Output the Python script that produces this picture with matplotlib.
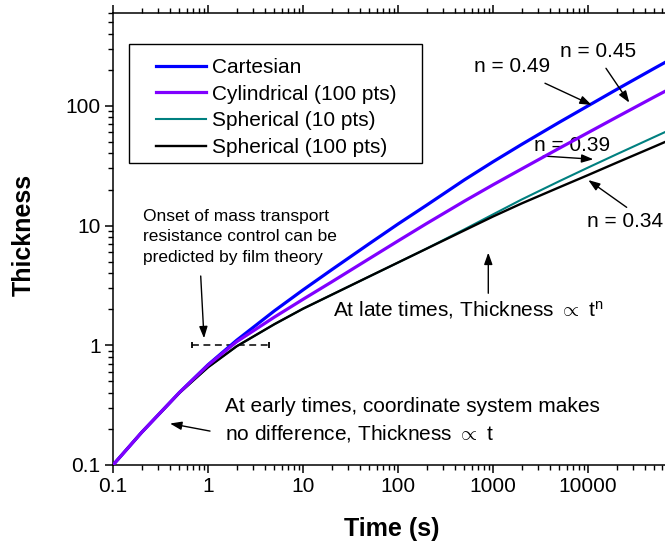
import matplotlib
matplotlib.use("Agg")
import matplotlib.pyplot as plt
from matplotlib import ticker
from matplotlib.patches import Rectangle

plt.rcParams['font.family'] = ['Liberation Sans', 'DejaVu Sans']
plt.rcParams['mathtext.fontset'] = 'custom'
plt.rcParams['mathtext.rm'] = 'Liberation Sans'
plt.rcParams['mathtext.it'] = 'Liberation Sans:italic'
plt.rcParams['mathtext.bf'] = 'Liberation Sans:bold'

# time (s) and thickness
time = [0.1, 0.2, 0.5, 1, 2, 5, 10, 20, 50, 100, 200, 500, 1000, 2000,
        5000, 10000, 20000, 50000, 65000]
cartesian = [0.1, 0.187, 0.403, 0.687, 1.10, 1.94, 2.90, 4.27, 7.07, 10.3,
             14.8, 24.1, 34.1, 47.6, 73, 100, 137, 206, 231]
cylindrical = [0.1, 0.187, 0.403, 0.682, 1.07, 1.72, 2.42, 3.38, 5.30, 7.44,
               10.4, 16.0, 21.9, 29.7, 44.3, 59.7, 80.4, 118.8, 132.5]
spherical10 = [0.1, 0.187, 0.40, 0.655, 0.98, 1.50, 2.02, 2.64, 3.76, 4.91,
               6.43, 9.3, 12.4, 16.5, 23.5, 30.5, 39.4, 55.0, 60.5]
spherical100 = [0.1, 0.187, 0.40, 0.655, 0.98, 1.50, 2.02, 2.64, 3.76, 4.91,
                6.41, 9.12, 11.9, 15.3, 20.9, 26.4, 33.5, 45.7, 50.0]

# film theory onset marker
onset_t = [0.68, 4.4]
onset_h = [1, 1]

xticks = [0.1, 1, 10, 100, 1000, 10000]
yticks = [0.1, 1, 10, 100]

fig = plt.figure(figsize=(6.65, 5.45), dpi=100)
ax = fig.add_axes([113/665, 80/545, 570/665, 452.3/545])

l1, = ax.plot(time, cartesian, color='#0000ff', lw=2.3, label='Cartesian', zorder=3)
l3, = ax.plot(time, spherical10, color='#008080', lw=1.5, label='Spherical (10 pts)', zorder=4)
l4, = ax.plot(time, spherical100, color='k', lw=1.7, label='Spherical (100 pts)', zorder=5)
l2, = ax.plot(time, cylindrical, color='#8000ff', lw=2.3, label='Cylindrical (100 pts)', zorder=6)

ax.plot(onset_t, onset_h, color='k', lw=1.1, dashes=(4.5, 3))
ax.plot(onset_t, onset_h, ls='none', marker='|', ms=5, mew=1.3, color='k')

ax.set_xscale('log')
ax.set_yscale('log')
ax.set_xlim(0.1, 1e5)
ax.set_ylim(0.1, 600)

fmt = ticker.FuncFormatter(lambda v, p: f"{v:g}")
ax.xaxis.set_major_locator(ticker.FixedLocator(xticks))
ax.yaxis.set_major_locator(ticker.FixedLocator(yticks))
ax.xaxis.set_major_formatter(fmt)
ax.yaxis.set_major_formatter(fmt)
ax.xaxis.set_minor_locator(ticker.LogLocator(base=10, subs=range(2, 10), numticks=20))
ax.yaxis.set_minor_locator(ticker.LogLocator(base=10, subs=range(2, 10), numticks=20))
ax.xaxis.set_minor_formatter(ticker.NullFormatter())
ax.yaxis.set_minor_formatter(ticker.NullFormatter())

ax.tick_params(which='major', length=6, width=1.1, labelsize=15, pad=3,
               direction='out', top=True, right=False)
ax.tick_params(which='minor', length=3.5, width=1.0, direction='out',
               top=True, right=False)
for s in ax.spines.values():
    s.set_linewidth(1.1)

ax.set_xlabel('Time (s)', fontsize=18, fontweight='bold')
ax.xaxis.set_label_coords(0.4895, -0.116)
ax.set_ylabel('Thickness', fontsize=18, fontweight='bold')
ax.yaxis.set_label_coords(-0.136, 0.5085)

# legend
ax.add_patch(Rectangle((0.0281, 0.6677), 0.514, 0.2631, transform=ax.transAxes,
                       fill=False, lw=1, edgecolor='k'))
ax.legend(handles=[l1, l2, l3, l4], loc='upper left', bbox_to_anchor=(0.0754, 0.900),
          frameon=False, fontsize=15, borderpad=0, borderaxespad=0,
          handlelength=2.4, handletextpad=0.27, labelspacing=0.37)

arrow = dict(arrowstyle='-|>,head_length=0.7,head_width=0.25', color='k', lw=1,
             shrinkA=0, shrinkB=0, mutation_scale=10)

ax.text(0.207, 8.03, "Onset of mass transport\nresistance control can be\npredicted by film theory",
        fontsize=12.5, ha='left', va='center', linespacing=1.43)
ax.annotate('', xy=(0.908, 1.144), xytext=(0.838, 3.79), arrowprops=arrow)

ax.text(1.51, 0.234, "At early times, coordinate system makes\nno difference, Thickness $\\propto$ t",
        fontsize=15, ha='left', va='center', linespacing=1.42)
ax.annotate('', xy=(0.398, 0.222), xytext=(1.05, 0.192), arrowprops=arrow)

ax.text(20.8, 1.76, "At late times, Thickness $\\propto$ t$^{\\mathregular{n}}$",
        fontsize=15, ha='left', va='baseline')
ax.annotate('', xy=(892, 5.94), xytext=(892, 2.72), arrowprops=arrow)

ax.text(1585, 214, 'n = 0.49', fontsize=15, ha='center', va='center')
ax.annotate('', xy=(10940, 101.7), xytext=(3525, 154.5), arrowprops=arrow)
ax.text(12650, 282, 'n = 0.45', fontsize=15, ha='center', va='center')
ax.annotate('', xy=(27200, 106.4), xytext=(15460, 206), arrowprops=arrow)
ax.text(6790, 47, 'n = 0.39', fontsize=15, ha='center', va='center')
ax.annotate('', xy=(11380, 35.8), xytext=(3383, 38.1), arrowprops=arrow)
ax.text(24700, 10.8, 'n = 0.34', fontsize=15, ha='center', va='center')
ax.annotate('', xy=(10070, 24.0), xytext=(25530, 14.2), arrowprops=arrow)

fig.savefig('out.png', dpi=100)
